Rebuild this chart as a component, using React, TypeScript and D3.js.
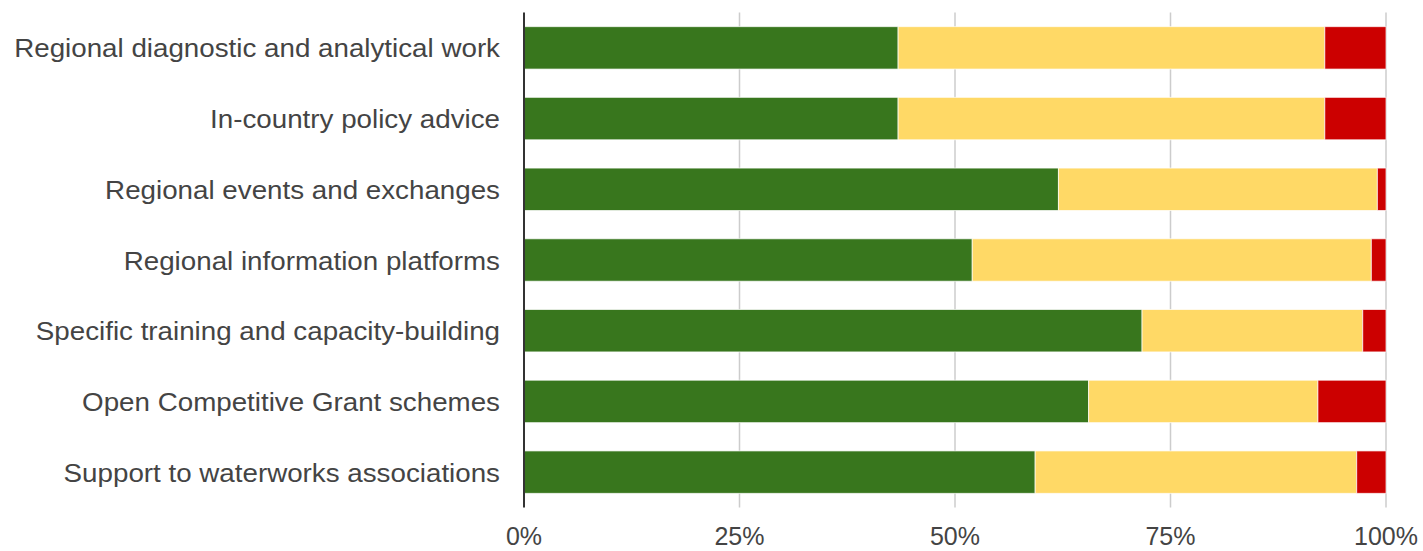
import { useEffect, useRef } from "react";
import * as d3 from "d3";

const categories = [
  "Regional diagnostic and analytical work",
  "In-country policy advice",
  "Regional events and exchanges",
  "Regional information platforms",
  "Specific training and capacity-building",
  "Open Competitive Grant schemes",
  "Support to waterworks associations",
];

// share of answers per category (%)
const greenValues = [43.4, 43.4, 62.0, 52.0, 71.7, 65.5, 59.3];
const yellowValues = [49.5, 49.5, 37.0, 46.3, 25.6, 26.6, 37.3];
const redValues = [7.1, 7.1, 1.0, 1.7, 2.7, 7.9, 3.4];

const seriesKeys = ["green", "yellow", "red"];
const seriesColors = ["#38761d", "#ffd966", "#cc0000"];
const xTicks = [0, 25, 50, 75, 100];

const width = 1423;
const height = 551;

const App = () => {
  const chartRef = useRef<SVGSVGElement>(null);

  useEffect(() => {
    const svg = d3.select(chartRef.current);
    svg.selectAll("*").remove();

    const left = 524;
    const right = 1386;
    const top = 12.5;
    const bottom = 507.5;

    const table = categories.map((c, i) => ({
      cat: c,
      green: greenValues[i],
      yellow: yellowValues[i],
      red: redValues[i],
    }));

    const x = d3.scaleLinear().domain([0, 100]).range([left, right]);
    const y = d3
      .scaleBand<string>()
      .domain(categories)
      .range([top, bottom])
      .paddingInner(0.4)
      .paddingOuter(0.2);

    const font = "'Liberation Sans', Arial, sans-serif";

    // grid
    svg
      .append("g")
      .selectAll("line")
      .data(xTicks.slice(1))
      .enter()
      .append("line")
      .attr("x1", (d) => x(d))
      .attr("x2", (d) => x(d))
      .attr("y1", top)
      .attr("y2", bottom)
      .attr("stroke", "#cccccc")
      .attr("stroke-width", 1.5);

    // stacked bars
    const stacked = d3.stack<any>().keys(seriesKeys)(table);
    svg
      .append("g")
      .selectAll("g")
      .data(stacked)
      .enter()
      .append("g")
      .attr("fill", (_d, i) => seriesColors[i])
      .selectAll("rect")
      .data((d) => d)
      .enter()
      .append("rect")
      .attr("x", (d) => x(d[0]))
      .attr("width", (d) => Math.max(0, x(d[1]) - x(d[0])))
      .attr("y", (d) => y(d.data.cat)!)
      .attr("height", y.bandwidth())
      .attr("stroke", "#ffffff")
      .attr("stroke-opacity", 0.7)
      .attr("stroke-width", 1);

    // axis line
    svg
      .append("line")
      .attr("x1", x(0))
      .attr("x2", x(0))
      .attr("y1", top)
      .attr("y2", bottom)
      .attr("stroke", "#333333")
      .attr("stroke-width", 2);

    // category labels (the source text is drawn a bit wide)
    svg
      .append("g")
      .selectAll("text")
      .data(categories)
      .enter()
      .append("text")
      .attr(
        "transform",
        (d) => `translate(500,${y(d)! + y.bandwidth() / 2}) scale(1.11,1)`
      )
      .attr("dy", "0.38em")
      .attr("text-anchor", "end")
      .attr("font-family", font)
      .attr("font-size", 25)
      .attr("fill", "#444444")
      .text((d) => d);

    // tick labels
    svg
      .append("g")
      .selectAll("text")
      .data(xTicks)
      .enter()
      .append("text")
      .attr("x", (d) => x(d))
      .attr("y", 545)
      .attr("text-anchor", "middle")
      .attr("font-family", font)
      .attr("font-size", 25)
      .attr("fill", "#444444")
      .text((d) => `${d}%`);
  }, []);

  return (
    <div style={{ position: "fixed", left: 0, top: 0 }}>
      <svg ref={chartRef} width={width} height={height} style={{ display: "block", background: "#fff" }} />
    </div>
  );
};

export default App;
